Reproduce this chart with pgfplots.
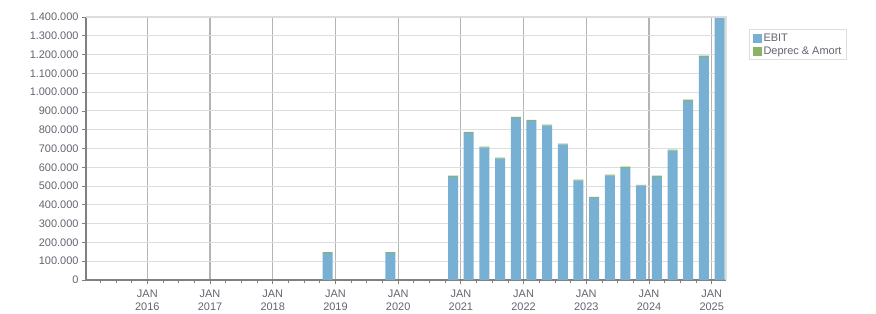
\documentclass[border=0pt]{standalone}
\usepackage{fontspec}
\setmainfont{Liberation Sans}
\usepackage{pgfplots}
\pgfplotsset{compat=1.18}
\usepackage{pgfplotstable}
\definecolor{ebit}{RGB}{119,176,210}
\definecolor{dep}{RGB}{137,180,100}
\definecolor{lbl}{RGB}{100,100,112}
\definecolor{hgrid}{RGB}{221,221,221}
\definecolor{vgrid}{RGB}{180,180,180}
\definecolor{axl}{RGB}{128,128,128}

\pgfplotstableread{
x        ebit     dep
2018.875 143500   5500
2019.875 143500   5500
2020.875 549500   5500
2021.125 783000   6000
2021.375 704500   5500
2021.625 645500   5500
2021.875 863000   6000
2022.125 847500   5500
2022.375 822000   5000
2022.625 720500   5500
2022.875 528500   5500
2023.125 437500   5500
2023.375 555500   5500
2023.625 597500   5500
2023.875 502000   5000
2024.125 549500   5500
2024.375 688500   5500
2024.625 954000   6000
2024.875 1188000  6000
2025.125 1420000  6000
}\datatable

\begin{document}
\begin{tikzpicture}[x=1bp,y=1bp]
\useasboundingbox (0,0) rectangle (876,313);
\begin{axis}[
  at={(86bp,33bp)}, anchor=south west,
  scale only axis, width=640bp, height=263bp,
  xmin=2015.022, xmax=2025.228,
  ymin=0, ymax=1400000,
  ybar stacked, bar width=10bp,
  axis x line*=bottom, axis y line*=left,
  axis line style={draw=axl, line width=1.2bp, -},
  tick align=outside,
  major tick length=4bp, minor tick length=2.5bp,
  tick style={draw=axl, line width=0.8bp},
  xtick={2016,2017,2018,2019,2020,2021,2022,2023,2024,2025},
  xticklabels={JAN\\2016,JAN\\2017,JAN\\2018,JAN\\2019,JAN\\2020,JAN\\2021,JAN\\2022,JAN\\2023,JAN\\2024,JAN\\2025},
  minor xtick={2015.25,2015.5,2015.75,2016.25,2016.5,2016.75,2017.25,2017.5,2017.75,2018.25,2018.5,2018.75,2019.25,2019.5,2019.75,2020.25,2020.5,2020.75,2021.25,2021.5,2021.75,2022.25,2022.5,2022.75,2023.25,2023.5,2023.75,2024.25,2024.5,2024.75,2025.25},
  xticklabel style={align=center, font=\fontsize{11}{13}\selectfont, text=lbl, yshift=-2bp},
  ytick={0,100000,200000,300000,400000,500000,600000,700000,800000,900000,1000000,1100000,1200000,1300000,1400000},
  yticklabels={0,100.000,200.000,300.000,400.000,500.000,600.000,700.000,800.000,900.000,1.000.000,1.100.000,1.200.000,1.300.000,1.400.000},
  yticklabel style={font=\fontsize{11}{13}\selectfont, text=lbl},
  scaled y ticks=false,
  ymajorgrids, xmajorgrids,
  y grid style={draw=hgrid, line width=1bp},
  x grid style={draw=vgrid, line width=1.2bp},
  clip=true,
  legend style={at={(1,1)}, anchor=north west, xshift=23bp, yshift=-12bp,
    draw=hgrid, line width=1bp, font=\fontsize{11}{13}\selectfont, text=lbl,
    inner xsep=3bp, inner ysep=2bp, row sep=0bp, cells={anchor=west}},
  legend image code/.code={\fill[#1] (0bp,-4.5bp) rectangle (9bp,4.5bp);},
  after end axis/.code={
    \draw[hgrid, line width=1.5bp] (rel axis cs:0,1) -- (rel axis cs:1,1) -- (rel axis cs:1,0);
  },
]
\addplot[fill=ebit, draw=none] table[x=x, y=ebit] {\datatable};
\addplot[fill=dep, draw=none] table[x=x, y=dep] {\datatable};
\legend{EBIT, Deprec \& Amort}
\end{axis}
\end{tikzpicture}
\end{document}
